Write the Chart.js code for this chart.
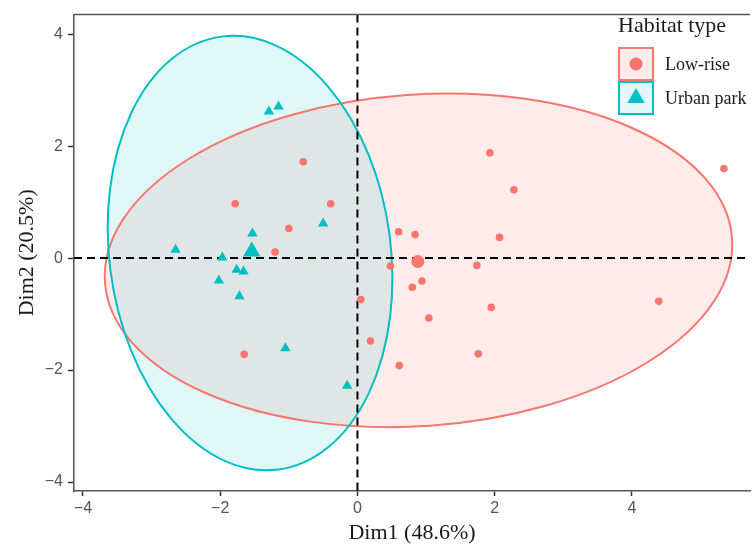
<!DOCTYPE html>
<html>
<head>
<meta charset="utf-8">
<script src="https://cdn.jsdelivr.net/npm/chart.js@4.4.1/dist/chart.umd.min.js"></script>
<style>
  body { margin: 0; background: #fff; }
  #wrap { width: 752px; height: 544px; }
</style>
</head>
<body>
<div id="wrap"><canvas id="pcaChart" width="752" height="544"></canvas></div>
<script>
// groups and labels
const groupNames = ['Low-rise', 'Urban park'];
const legendTitle = 'Habitat type';
const xTitle = 'Dim1 (48.6%)';
const yTitle = 'Dim2 (20.5%)';
const xTickValues = [-4, -2, 0, 2, 4];
const yTickValues = [-4, -2, 0, 2, 4];

// individuals
const lowRiseX = [1.93, 5.34, 2.28, 0.60, 0.84, 2.07, 0.48, 1.74, 0.94, 0.80, 0.05, 4.39, 1.95, 1.04, 0.19, 1.76, 0.61, -0.79, -1.78, -0.39, -1.00, -1.20, -1.65];
const lowRiseY = [1.88, 1.60, 1.22, 0.47, 0.42, 0.37, -0.14, -0.13, -0.41, -0.52, -0.74, -0.77, -0.88, -1.07, -1.48, -1.71, -1.92, 1.72, 0.97, 0.97, 0.53, 0.11, -1.72];
const urbanX = [-1.29, -1.15, -0.50, -1.53, -2.65, -1.97, -1.76, -1.66, -2.02, -1.72, -1.05, -0.15];
const urbanY = [2.62, 2.71, 0.62, 0.44, 0.15, 0.01, -0.21, -0.24, -0.40, -0.68, -1.61, -2.28];

// group means
const centroidX = [0.88, -1.54];
const centroidY = [-0.06, 0.12];

// confidence ellipses: centre, semi-axes (data units), tilt in degrees
const ellipseCX = [0.89, -1.565];
const ellipseCY = [-0.04, 0.09];
const ellipseRX = [4.58, 2.05];
const ellipseRY = [2.96, 3.90];
const ellipseTilt = [-4, -7.5];

const colRed = '#F8766D';
const colTeal = '#00BFC4';
const fills = ['rgba(248,118,109,0.14)', 'rgba(0,191,196,0.12)'];
const strokes = [colRed, colTeal];

function pts(xs, ys) {
  return xs.map((v, i) => ({ x: v, y: ys[i] }));
}

const ellipsePlugin = {
  id: 'ellipses',
  beforeDatasetsDraw(chart) {
    const { ctx, chartArea, scales: { x, y } } = chart;
    ctx.save();
    ctx.beginPath();
    ctx.rect(chartArea.left, chartArea.top, chartArea.right - chartArea.left, chartArea.bottom - chartArea.top);
    ctx.clip();
    const shapes = ellipseCX.map((cx, i) => {
      const px = x.getPixelForValue(cx);
      const py = y.getPixelForValue(ellipseCY[i]);
      return {
        px, py,
        rx: Math.abs(x.getPixelForValue(cx + ellipseRX[i]) - px),
        ry: Math.abs(y.getPixelForValue(ellipseCY[i] + ellipseRY[i]) - py),
        rot: ellipseTilt[i] * Math.PI / 180
      };
    });
    shapes.forEach((s, i) => {
      ctx.beginPath();
      ctx.ellipse(s.px, s.py, s.rx, s.ry, s.rot, 0, Math.PI * 2);
      ctx.fillStyle = fills[i];
      ctx.fill();
    });
    shapes.forEach((s, i) => {
      ctx.beginPath();
      ctx.ellipse(s.px, s.py, s.rx, s.ry, s.rot, 0, Math.PI * 2);
      ctx.strokeStyle = strokes[i];
      ctx.lineWidth = 2;
      ctx.stroke();
    });

    // zero lines
    ctx.setLineDash([8, 5]);
    ctx.strokeStyle = '#000';
    ctx.lineWidth = 2;
    const x0 = x.getPixelForValue(0);
    const y0 = y.getPixelForValue(0);
    ctx.beginPath();
    ctx.moveTo(x0, chartArea.top);
    ctx.lineTo(x0, chartArea.bottom);
    ctx.moveTo(chartArea.left, y0);
    ctx.lineTo(chartArea.right, y0);
    ctx.stroke();
    ctx.restore();
  },
  afterDraw(chart) {
    const { ctx, chartArea } = chart;
    ctx.save();
    // top frame line
    ctx.strokeStyle = '#555';
    ctx.lineWidth = 1.5;
    ctx.beginPath();
    ctx.moveTo(chartArea.left, chartArea.top);
    ctx.lineTo(chartArea.right, chartArea.top);
    ctx.stroke();

    // legend
    ctx.fillStyle = '#1a1a1a';
    ctx.font = '22px "Liberation Serif"';
    ctx.textBaseline = 'middle';
    ctx.fillText(legendTitle, 618, 26);
    const boxFill = ['#FDECEB', '#E3F6F7'];
    groupNames.forEach((name, i) => {
      const bx = 619, by = 48 + i * 34, bw = 34, bh = 32;
      ctx.fillStyle = boxFill[i];
      ctx.fillRect(bx, by, bw, bh);
      ctx.strokeStyle = strokes[i];
      ctx.lineWidth = 2;
      ctx.strokeRect(bx, by, bw, bh);
      const cx = bx + bw / 2, cy = by + bh / 2;
      ctx.fillStyle = strokes[i];
      ctx.beginPath();
      if (i === 0) {
        ctx.arc(cx, cy, 6.5, 0, Math.PI * 2);
      } else {
        const r = 10;
        ctx.moveTo(cx, cy - r);
        ctx.lineTo(cx + r * Math.sin(2 * Math.PI / 3), cy - r * Math.cos(2 * Math.PI / 3));
        ctx.lineTo(cx + r * Math.sin(4 * Math.PI / 3), cy - r * Math.cos(4 * Math.PI / 3));
        ctx.closePath();
      }
      ctx.fill();
      ctx.fillStyle = '#1a1a1a';
      ctx.font = '18px "Liberation Serif"';
      ctx.fillText(name, 665, cy + 1);
    });
    ctx.restore();
  }
};

const minus = v => String(v).replace('-', '\u2212');

const ctx = document.getElementById('pcaChart').getContext('2d');
const pcaChart = new Chart(ctx, {
  type: 'scatter',
  data: {
    datasets: [
      { label: groupNames[0], data: pts(lowRiseX, lowRiseY), pointStyle: 'circle', pointRadius: 3.8, backgroundColor: colRed, borderWidth: 0 },
      { label: groupNames[1], data: pts(urbanX, urbanY), pointStyle: 'triangle', pointRadius: 6, backgroundColor: colTeal, borderWidth: 0 },
      { label: groupNames[0] + ' mean', data: [{ x: centroidX[0], y: centroidY[0] }], pointStyle: 'circle', pointRadius: 6.5, backgroundColor: colRed, borderWidth: 0 },
      { label: groupNames[1] + ' mean', data: [{ x: centroidX[1], y: centroidY[1] }], pointStyle: 'triangle', pointRadius: 10, backgroundColor: colTeal, borderWidth: 0 }
    ]
  },
  options: {
    responsive: false,
    devicePixelRatio: 1,
    animation: false,
    layout: { autoPadding: false, padding: { top: 12, right: 2, left: 0, bottom: 0 } },
    plugins: { legend: { display: false }, tooltip: { enabled: false } },
    scales: {
      x: {
        type: 'linear', min: -4.13, max: 5.72,
        afterBuildTicks: s => { s.ticks = xTickValues.map(v => ({ value: v })); },
        afterFit: s => { s.height = 53; },
        ticks: { font: { family: 'Liberation Sans', size: 16 }, color: '#555', padding: 3, callback: minus },
        grid: { drawOnChartArea: false, drawTicks: true, tickLength: 5, tickColor: '#333', tickWidth: 1.5 },
        border: { display: true, color: '#555', width: 1.5 },
        title: { display: true, text: xTitle, color: '#1a1a1a', font: { family: 'Liberation Serif', size: 22, lineHeight: 1.0 }, padding: { top: 0, bottom: 0 } }
      },
      y: {
        type: 'linear', min: -4.16, max: 4.35,
        afterBuildTicks: s => { s.ticks = yTickValues.map(v => ({ value: v })); },
        afterFit: s => { s.width = 74; },
        ticks: { font: { family: 'Liberation Sans', size: 16 }, color: '#555', padding: 5, callback: minus },
        grid: { drawOnChartArea: false, drawTicks: true, tickLength: 6, tickColor: '#333', tickWidth: 1.5 },
        border: { display: true, color: '#555', width: 1.5 },
        title: { display: true, text: yTitle, color: '#1a1a1a', font: { family: 'Liberation Serif', size: 22 }, padding: { top: 14, bottom: 0 } }
      }
    }
  },
  plugins: [ellipsePlugin]
});
</script>
</body>
</html>
